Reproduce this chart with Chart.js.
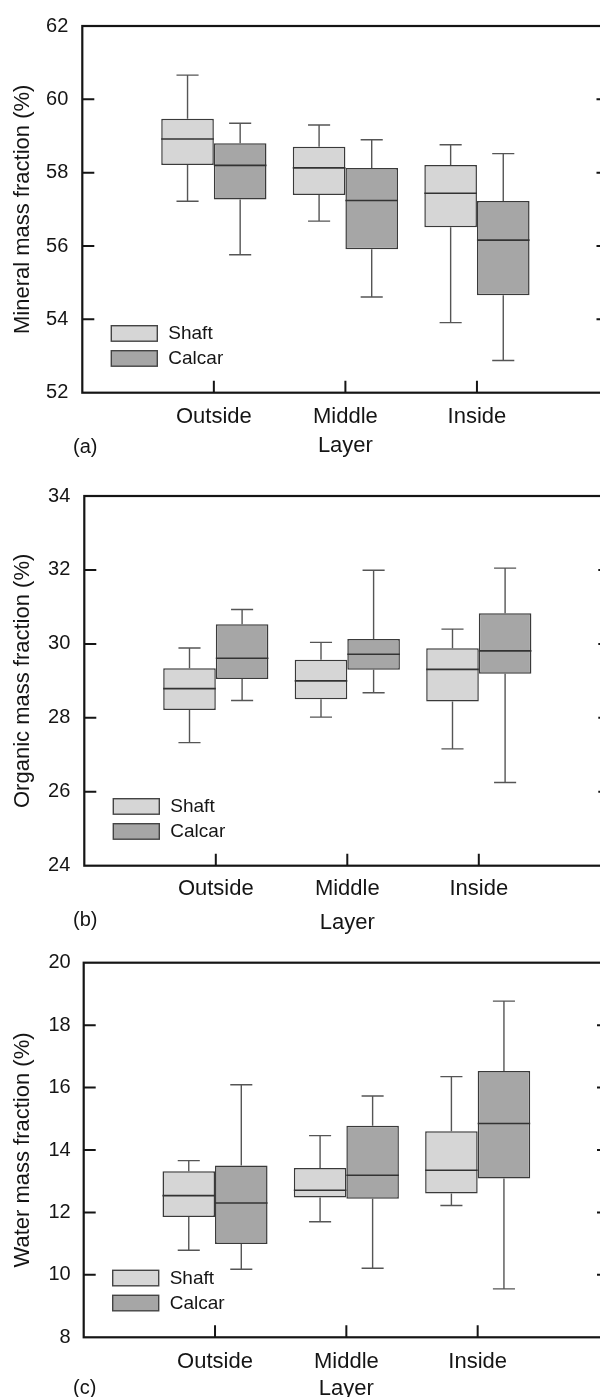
<!DOCTYPE html>
<html>
<head>
<meta charset="utf-8">
<script src="https://cdn.jsdelivr.net/npm/chart.js@4.4.0/dist/chart.umd.min.js"></script>
<style>
  html, body { margin: 0; padding: 0; background: #fff; overflow: hidden; }
  body { width: 600px; height: 1397px; position: relative; }
  canvas { position: absolute; left: 0; }
</style>
</head>
<body>
<canvas id="chartA" width="620" height="480" style="top:0px"></canvas>
<canvas id="chartB" width="620" height="480" style="top:470px"></canvas>
<canvas id="chartC" width="620" height="480" style="top:930px"></canvas>
<script>
const layers = ['Outside', 'Middle', 'Inside'];
const seriesNames = ['Shaft', 'Calcar'];

// each entry: [min, q1, median, q3, max] for Outside, Middle, Inside
const mineralShaft = [[57.22, 58.21, 58.92, 59.47, 60.66], [56.68, 57.39, 58.13, 58.71, 59.30], [53.91, 56.51, 57.44, 58.21, 58.76]];
const mineralCalcar = [[55.76, 57.27, 58.20, 58.80, 59.35], [54.61, 55.91, 57.24, 58.13, 58.90], [52.88, 54.66, 56.16, 57.23, 58.52]];
const organicShaft = [[27.33, 28.21, 28.79, 29.34, 29.89], [28.02, 28.50, 29.00, 29.57, 30.04], [27.16, 28.44, 29.31, 29.88, 30.40]];
const organicCalcar = [[28.47, 29.05, 29.61, 30.53, 30.93], [28.68, 29.30, 29.72, 30.13, 31.99], [26.25, 29.19, 29.81, 30.83, 32.05]];
const waterShaft = [[10.79, 11.85, 12.54, 13.32, 13.66], [11.70, 12.48, 12.71, 13.42, 14.46], [12.22, 12.61, 13.35, 14.60, 16.35]];
const waterCalcar = [[10.18, 10.99, 12.30, 13.50, 16.09], [10.21, 12.44, 13.19, 14.78, 15.73], [9.55, 13.09, 14.85, 16.53, 18.77]];

const mineralRange = [52, 62];
const organicRange = [24, 34];
const waterRange = [8, 20];

const fills = ['#d6d6d6', '#a6a6a6'];
const ink = '#151515';

Chart.defaults.font.family = "'Liberation Sans', Arial, sans-serif";
Chart.defaults.color = ink;

// whiskers under the boxes, medians on top
const boxPlugin = {
  id: 'boxes',
  beforeDatasetsDraw(chart) {
    const ctx = chart.ctx, y = chart.scales.y;
    ctx.save();
    ctx.strokeStyle = '#555';
    ctx.lineWidth = 1.4;
    chart.data.datasets.forEach((ds, i) => {
      chart.getDatasetMeta(i).data.forEach((bar, j) => {
        const s = ds.stats[j];
        if (!s) return;
        const cap = bar.width * 0.21;
        ctx.beginPath();
        ctx.moveTo(bar.x, y.getPixelForValue(s[1]));
        ctx.lineTo(bar.x, y.getPixelForValue(s[0]));
        ctx.moveTo(bar.x - cap, y.getPixelForValue(s[0]));
        ctx.lineTo(bar.x + cap, y.getPixelForValue(s[0]));
        ctx.moveTo(bar.x, y.getPixelForValue(s[3]));
        ctx.lineTo(bar.x, y.getPixelForValue(s[4]));
        ctx.moveTo(bar.x - cap, y.getPixelForValue(s[4]));
        ctx.lineTo(bar.x + cap, y.getPixelForValue(s[4]));
        ctx.stroke();
      });
    });
    ctx.restore();
  },
  afterDatasetsDraw(chart) {
    const ctx = chart.ctx, y = chart.scales.y;
    ctx.save();
    ctx.strokeStyle = '#333';
    ctx.lineWidth = 1.6;
    chart.data.datasets.forEach((ds, i) => {
      chart.getDatasetMeta(i).data.forEach((bar, j) => {
        const s = ds.stats[j];
        if (!s) return;
        const py = y.getPixelForValue(s[2]);
        ctx.beginPath();
        ctx.moveTo(bar.x - bar.width / 2, py);
        ctx.lineTo(bar.x + bar.width / 2, py);
        ctx.stroke();
      });
    });
    ctx.restore();
  },
  afterDraw(chart) {
    const ctx = chart.ctx, a = chart.chartArea;
    const xs = chart.scales.x, ys = chart.scales.y;
    const opts = chart.options.plugins.boxes;
    ctx.save();
    ctx.strokeStyle = ink;
    ctx.lineWidth = 2.2;
    ctx.strokeRect(a.left, a.top, a.right - a.left, a.bottom - a.top);
    ctx.lineWidth = 2;
    ctx.beginPath();
    ys.ticks.forEach(t => {
      if (t.value === ys.min || t.value === ys.max) return;
      const py = ys.getPixelForValue(t.value);
      ctx.moveTo(a.left, py); ctx.lineTo(a.left + 12, py);
      ctx.moveTo(a.right, py); ctx.lineTo(a.right - 12, py);
    });
    layers.forEach(l => {
      const px = xs.getPixelForValue(xs.getLabels().indexOf(l));
      ctx.moveTo(px, a.bottom); ctx.lineTo(px, a.bottom - 12);
    });
    ctx.stroke();

    // legend inside the plot
    ctx.font = "19px 'Liberation Sans', Arial, sans-serif";
    ctx.textBaseline = 'middle';
    ctx.textAlign = 'left';
    chart.data.datasets.forEach((ds, i) => {
      const bx = a.left + 29, by = a.bottom - 67 + i * 25;
      ctx.fillStyle = ds.backgroundColor;
      ctx.fillRect(bx, by, 46, 15.5);
      ctx.strokeStyle = '#444';
      ctx.lineWidth = 1.4;
      ctx.strokeRect(bx, by, 46, 15.5);
      ctx.fillStyle = ink;
      ctx.fillText(ds.label, bx + 57, by + 8.5);
    });

    ctx.font = "20px 'Liberation Sans', Arial, sans-serif";
    ctx.fillText(opts.tag, 73, opts.tagY);
    ctx.restore();
  }
};

function makeChart(id, shaft, calcar, range, yTitle, tag, p) {
  const H = 480, W = 620;
  const pad = arr => [null, ...arr, null];
  new Chart(document.getElementById(id), {
    type: 'bar',
    data: {
      labels: ['', ...layers, ''],
      datasets: [shaft, calcar].map((s, i) => ({
        label: seriesNames[i],
        data: pad(s.map(v => [v[1], v[3]])),
        stats: pad(s),
        backgroundColor: fills[i],
        borderColor: '#3a3a3a',
        borderWidth: 1.5,
        borderSkipped: false,
        categoryPercentage: 0.8,
        barPercentage: 1.0
      }))
    },
    options: {
      responsive: false,
      animation: false,
      events: [],
      layout: { padding: { top: p.top, right: W - p.right, left: 0, bottom: 0 } },
      plugins: {
        legend: { display: false },
        tooltip: { enabled: false },
        boxes: { tag: tag, tagY: p.tagY }
      },
      scales: {
        x: {
          type: 'category',
          offset: false,
          grid: { display: false, drawTicks: false },
          border: { display: false },
          ticks: { autoSkip: false, maxRotation: 0, padding: p.labelPad, font: { size: 22 } },
          title: { display: true, text: 'Layer', font: { size: 22 }, padding: { top: 0, bottom: H - p.titleY - 13.2 } },
          afterFit(s) { s.height = H - p.bottom; }
        },
        y: {
          min: range[0],
          max: range[1],
          grid: { display: false, drawTicks: false },
          border: { display: false },
          ticks: { stepSize: 2, padding: p.tickPad, font: { size: 20 } },
          title: { display: true, text: yTitle, font: { size: 22 }, padding: { top: 10, bottom: 0 } },
          afterFit(s) { s.width = p.left; }
        }
      }
    },
    plugins: [boxPlugin]
  });
}

makeChart('chartA', mineralShaft, mineralCalcar, mineralRange, 'Mineral mass fraction (%)', '(a)',
  { top: 21.7, bottom: 392.7, left: 82.3, right: 609, titleY: 446, tagY: 447.5, labelPad: 11.5, tickPad: 14 });
makeChart('chartB', organicShaft, organicCalcar, organicRange, 'Organic mass fraction (%)', '(b)',
  { top: 20.7, bottom: 395.7, left: 84.3, right: 610.3, titleY: 452.7, tagY: 450.5, labelPad: 9.6, tickPad: 14 });
makeChart('chartC', waterShaft, waterCalcar, waterRange, 'Water mass fraction (%)', '(c)',
  { top: 32.7, bottom: 407.3, left: 83.7, right: 609, titleY: 459, tagY: 458, labelPad: 11, tickPad: 13 });
</script>
</body>
</html>
